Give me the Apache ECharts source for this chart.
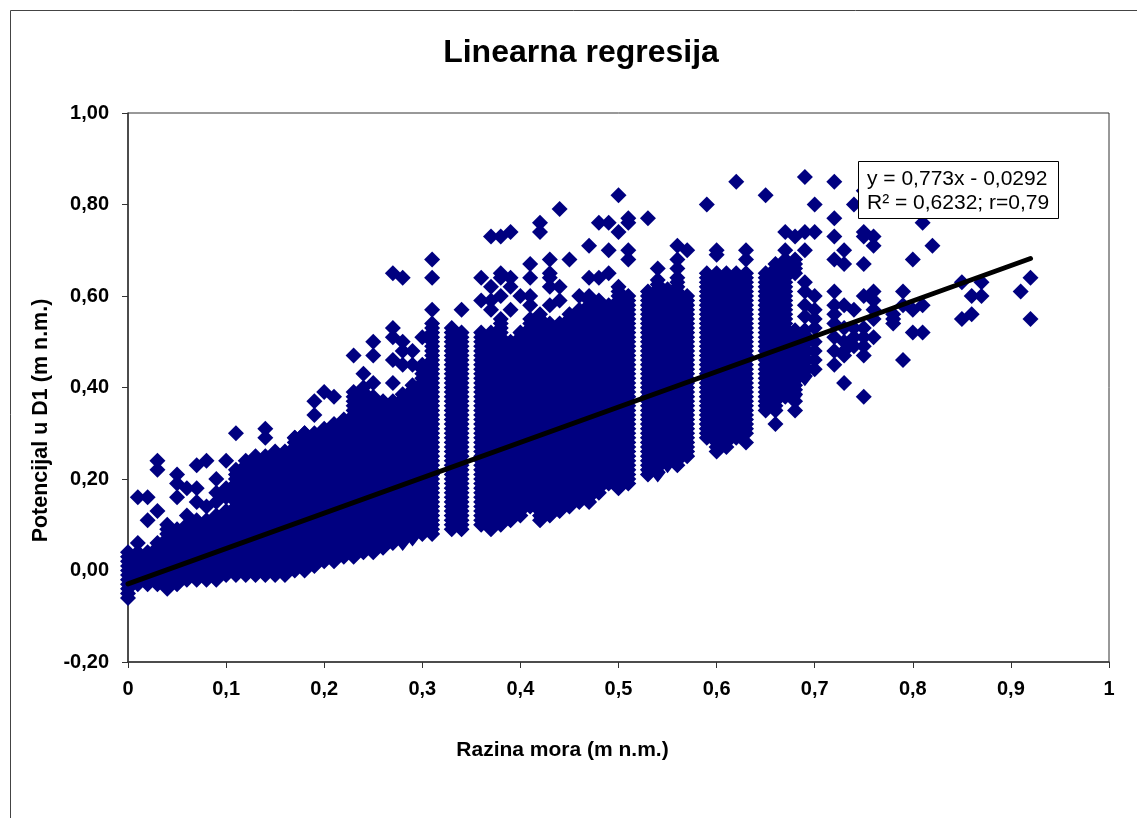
<!DOCTYPE html>
<html>
<head>
<meta charset="utf-8">
<title>Linearna regresija</title>
<script src="https://cdn.jsdelivr.net/npm/echarts@6/dist/echarts.min.js"></script>
<style>
  html, body { margin: 0; padding: 0; background: #fff; }
  #chart { width: 1137px; height: 818px; }
</style>
</head>
<body>
<div id="chart"></div>
<script>
const xTickLabels = ["0", "0,1", "0,2", "0,3", "0,4", "0,5", "0,6", "0,7", "0,8", "0,9", "1"];
const yTickLabels = ["-0,20", "0,00", "0,20", "0,40", "0,60", "0,80", "1,00"];

// columns where the markers overlap into a solid block (x, lowest y, highest y)
const denseX = [0, 0.01, 0.02, 0.03, 0.04, 0.05, 0.06, 0.07, 0.08, 0.09, 0.1, 0.11, 0.12, 0.13, 0.14, 0.15, 0.16, 0.17, 0.18, 0.19, 0.2, 0.21, 0.22, 0.23, 0.24, 0.25, 0.26, 0.27, 0.28, 0.29, 0.3, 0.31, 0.33, 0.34, 0.36, 0.37, 0.38, 0.39, 0.4, 0.41, 0.42, 0.43, 0.44, 0.45, 0.46, 0.47, 0.48, 0.49, 0.5, 0.51, 0.53, 0.54, 0.55, 0.56, 0.57, 0.59, 0.6, 0.61, 0.62, 0.63, 0.65, 0.66, 0.67, 0.68, 0.68, 0.69];
const denseLow = [-0.05, -0.03, -0.03, -0.03, -0.03, -0.03, -0.02, -0.02, -0.02, -0.02, -0.01, -0.01, -0.01, -0.01, -0.01, -0.01, -0.01, 0, 0, 0.01, 0.02, 0.02, 0.03, 0.03, 0.04, 0.04, 0.05, 0.06, 0.06, 0.07, 0.08, 0.08, 0.09, 0.09, 0.1, 0.09, 0.1, 0.11, 0.12, 0.14, 0.11, 0.12, 0.13, 0.14, 0.15, 0.15, 0.17, 0.19, 0.18, 0.19, 0.21, 0.21, 0.23, 0.23, 0.25, 0.29, 0.26, 0.27, 0.29, 0.3, 0.35, 0.35, 0.38, 0.38, 0.65, 0.42];
const denseHigh = [0.03, 0.04, 0.04, 0.06, 0.1, 0.09, 0.1, 0.11, 0.11, 0.12, 0.13, 0.22, 0.24, 0.25, 0.25, 0.26, 0.26, 0.29, 0.3, 0.3, 0.31, 0.32, 0.33, 0.38, 0.4, 0.38, 0.37, 0.37, 0.385, 0.405, 0.45, 0.54, 0.53, 0.52, 0.52, 0.52, 0.55, 0.5, 0.52, 0.55, 0.56, 0.54, 0.54, 0.56, 0.57, 0.6, 0.59, 0.58, 0.62, 0.6, 0.61, 0.635, 0.615, 0.64, 0.6, 0.65, 0.65, 0.65, 0.65, 0.65, 0.65, 0.67, 0.68, 0.525, 0.68, 0.525];

// single readings left of the 0,4 gridline
const pointsLow = [
  [0.11, 0.3], [0.14, 0.31], [0.14, 0.29], [0.03, 0.24], [0.03, 0.22], [0.07, 0.23], [0.08, 0.24], [0.05, 0.21], [0.05, 0.19],
  [0.1, 0.24], [0.01, 0.16], [0.02, 0.16], [0.05, 0.16], [0.06, 0.18], [0.07, 0.18], [0.09, 0.2], [0.09, 0.17], [0.07, 0.15],
  [0.08, 0.14], [0.09, 0.15], [0.1, 0.18], [0.1, 0.16], [0.03, 0.13], [0.02, 0.11], [0.06, 0.12], [0.01, 0.06], [0, 0.04],
  [0, -0.06], [0.04, -0.04], [0.31, 0.68], [0.31, 0.64], [0.27, 0.65], [0.28, 0.64], [0.31, 0.57], [0.34, 0.57], [0.27, 0.53],
  [0.27, 0.51], [0.3, 0.51], [0.28, 0.5], [0.25, 0.5], [0.25, 0.47], [0.23, 0.47], [0.29, 0.48], [0.24, 0.43], [0.25, 0.41],
  [0.27, 0.46], [0.27, 0.41], [0.2, 0.39], [0.21, 0.38], [0.19, 0.37], [0.19, 0.34], [0.28, 0.48], [0.28, 0.45], [0.29, 0.45],
  [0.23, 0.39], [0.17, 0.29], [0.18, 0.3], [0.36, 0.64], [0.36, 0.59], [0.37, 0.73], [0.38, 0.73], [0.39, 0.74], [0.37, 0.62],
  [0.38, 0.65], [0.38, 0.64], [0.38, 0.6], [0.39, 0.64], [0.39, 0.62], [0.39, 0.57], [0.37, 0.59], [0.37, 0.57]
];
// single readings from 0,40 to the right
const pointsMid = [
  [0.4, 0.6], [0.41, 0.67], [0.41, 0.64], [0.41, 0.6], [0.41, 0.58], [0.42, 0.76], [0.42, 0.74], [0.43, 0.68], [0.43, 0.65],
  [0.43, 0.64], [0.43, 0.62], [0.43, 0.58], [0.44, 0.79], [0.44, 0.62], [0.44, 0.59], [0.45, 0.68], [0.46, 0.6], [0.47, 0.71],
  [0.47, 0.64], [0.48, 0.76], [0.48, 0.64], [0.49, 0.76], [0.49, 0.7], [0.49, 0.65], [0.5, 0.82], [0.5, 0.74], [0.51, 0.77],
  [0.51, 0.76], [0.51, 0.7], [0.51, 0.68], [0.53, 0.77], [0.54, 0.66], [0.56, 0.71], [0.56, 0.68], [0.56, 0.66], [0.57, 0.7],
  [0.59, 0.8], [0.6, 0.7], [0.6, 0.69], [0.62, 0.85], [0.63, 0.7], [0.63, 0.68], [0.63, 0.28], [0.65, 0.82], [0.66, 0.32]
];
// single readings at the sparse right end
const pointsHigh = [
  [0.67, 0.74], [0.67, 0.7], [0.68, 0.73], [0.68, 0.37], [0.68, 0.35], [0.69, 0.86], [0.69, 0.74], [0.69, 0.7], [0.69, 0.63],
  [0.69, 0.61], [0.69, 0.58], [0.69, 0.555], [0.7, 0.8], [0.7, 0.74], [0.7, 0.6], [0.7, 0.57], [0.7, 0.55], [0.7, 0.53], [0.7, 0.5],
  [0.7, 0.48], [0.7, 0.46], [0.7, 0.44], [0.72, 0.85], [0.72, 0.77], [0.72, 0.73], [0.72, 0.68], [0.72, 0.61], [0.72, 0.58],
  [0.72, 0.56], [0.72, 0.54], [0.72, 0.51], [0.72, 0.48], [0.72, 0.45], [0.73, 0.7], [0.73, 0.67], [0.73, 0.58], [0.73, 0.53],
  [0.73, 0.5], [0.73, 0.48], [0.73, 0.47], [0.73, 0.41], [0.74, 0.8], [0.74, 0.57], [0.74, 0.53], [0.74, 0.51], [0.74, 0.49],
  [0.75, 0.83], [0.75, 0.74], [0.75, 0.73], [0.75, 0.67], [0.75, 0.6], [0.75, 0.53], [0.75, 0.51], [0.75, 0.49], [0.75, 0.47],
  [0.75, 0.38], [0.76, 0.73], [0.76, 0.71], [0.76, 0.61], [0.76, 0.59], [0.76, 0.57], [0.76, 0.55], [0.76, 0.51], [0.78, 0.56],
  [0.78, 0.55], [0.78, 0.54], [0.79, 0.61], [0.79, 0.58], [0.79, 0.46], [0.8, 0.68], [0.8, 0.57], [0.8, 0.52], [0.81, 0.76],
  [0.81, 0.58], [0.81, 0.52], [0.82, 0.71], [0.85, 0.63], [0.85, 0.55], [0.86, 0.6], [0.86, 0.56], [0.87, 0.63], [0.87, 0.6],
  [0.91, 0.61], [0.92, 0.64], [0.92, 0.55]
];

const trendX = [0, 0.92];
const trendY = [-0.0292, 0.682];

const NAVY = "#000080";
const MARKER = 16;
const FONT = '"Liberation Sans", Arial, sans-serif';

// one solid column: outline follows the overlapping diamonds, so the sides stay notched
function renderColumn(params, api) {
  const [cx, top] = api.coord([api.value(0), api.value(2)]);
  const bottom = api.coord([api.value(0), api.value(1)])[1];
  const step = api.size([0, 0.01])[1];
  const r = MARKER / 2;
  const right = [];
  const left = [];
  for (let y = top; y <= bottom + 0.1; y += step) {
    right.push([cx + r, y]);
    left.push([cx - r, y]);
    if (y + step <= bottom + 0.1) {
      right.push([cx + r - step / 2, y + step / 2]);
      left.push([cx - r + step / 2, y + step / 2]);
    }
  }
  const points = [[cx, top - r], ...right, [cx, bottom + r], ...left.reverse()];
  return {
    type: "polygon",
    shape: { points },
    style: { fill: NAVY, stroke: null }
  };
}

const chart = echarts.init(document.getElementById("chart"), null, { renderer: "canvas" });
chart.setOption({
  animation: false,
  backgroundColor: "#fff",
  title: {
    text: "Linearna regresija",
    left: 576,
    top: 32,
    textAlign: "center",
    textStyle: { fontFamily: FONT, fontSize: 32, fontWeight: "bold", color: "#000" }
  },
  grid: { left: 128, top: 113, width: 981, height: 549, show: true, borderColor: "#333", borderWidth: 1 },
  xAxis: {
    type: "value",
    min: 0,
    max: 1,
    interval: 0.1,
    name: "Razina mora (m n.m.)",
    nameLocation: "middle",
    nameGap: 78,
    nameTextStyle: { fontFamily: FONT, fontSize: 21, fontWeight: "bold", color: "#000", padding: [0, 112, 0, 0] },
    axisLine: { onZero: false, lineStyle: { color: "#333", width: 1.5 } },
    axisTick: { show: true, length: 6, lineStyle: { color: "#333" } },
    axisLabel: {
      margin: 17,
      fontFamily: FONT,
      fontSize: 20,
      fontWeight: "bold",
      color: "#000",
      formatter: (v) => xTickLabels[Math.round(v * 10)]
    },
    splitLine: { show: false }
  },
  yAxis: {
    type: "value",
    min: -0.2,
    max: 1,
    interval: 0.2,
    name: "Potencijal u D1 (m n.m.)",
    nameLocation: "middle",
    nameRotate: 90,
    nameGap: 72,
    nameTextStyle: { fontFamily: FONT, fontSize: 21.5, fontWeight: "bold", color: "#000", padding: [0, 66, 0, 0] },
    axisLine: { onZero: false, lineStyle: { color: "#333", width: 1.5 } },
    axisTick: { show: true, length: 6, lineStyle: { color: "#333" } },
    axisLabel: {
      margin: 19,
      fontFamily: FONT,
      fontSize: 20,
      fontWeight: "bold",
      color: "#000",
      formatter: (v) => yTickLabels[Math.round((v + 0.2) / 0.2)]
    },
    splitLine: { show: false }
  },
  series: [
    {
      type: "custom",
      silent: true,
      clip: false,
      renderItem: renderColumn,
      encode: { x: 0, y: [1, 2] },
      data: denseX.map((x, i) => [x, denseLow[i], denseHigh[i]])
    },
    {
      type: "scatter",
      silent: true,
      symbol: "diamond",
      symbolSize: MARKER,
      itemStyle: { color: NAVY, opacity: 1 },
      data: [...pointsLow, ...pointsMid, ...pointsHigh]
    },
    {
      type: "line",
      silent: true,
      showSymbol: false,
      z: 5,
      lineStyle: { color: "#000", width: 5, cap: "round" },
      data: trendX.map((x, i) => [x, trendY[i]])
    }
  ],
  graphic: [
    { type: "line", z: 0, shape: { x1: 10.5, y1: 10.5, x2: 10.5, y2: 818 }, style: { stroke: "#444", lineWidth: 1 } },
    { type: "line", z: 0, shape: { x1: 10.5, y1: 10.5, x2: 1137, y2: 10.5 }, style: { stroke: "#444", lineWidth: 1 } },
    { type: "rect", z: 100, shape: { x: 858.5, y: 161.5, width: 200, height: 57 }, style: { fill: "#fff", stroke: "#000", lineWidth: 1 } },
    { type: "text", z: 101, x: 867, y: 179, style: { text: "y = 0,773x - 0,0292", fontFamily: FONT, fontSize: 21, fill: "#000", textVerticalAlign: "middle" } },
    { type: "text", z: 101, x: 867, y: 203, style: { text: "R² = 0,6232; r=0,79", fontFamily: FONT, fontSize: 21, fill: "#000", textVerticalAlign: "middle" } }
  ]
});
</script>
</body>
</html>
